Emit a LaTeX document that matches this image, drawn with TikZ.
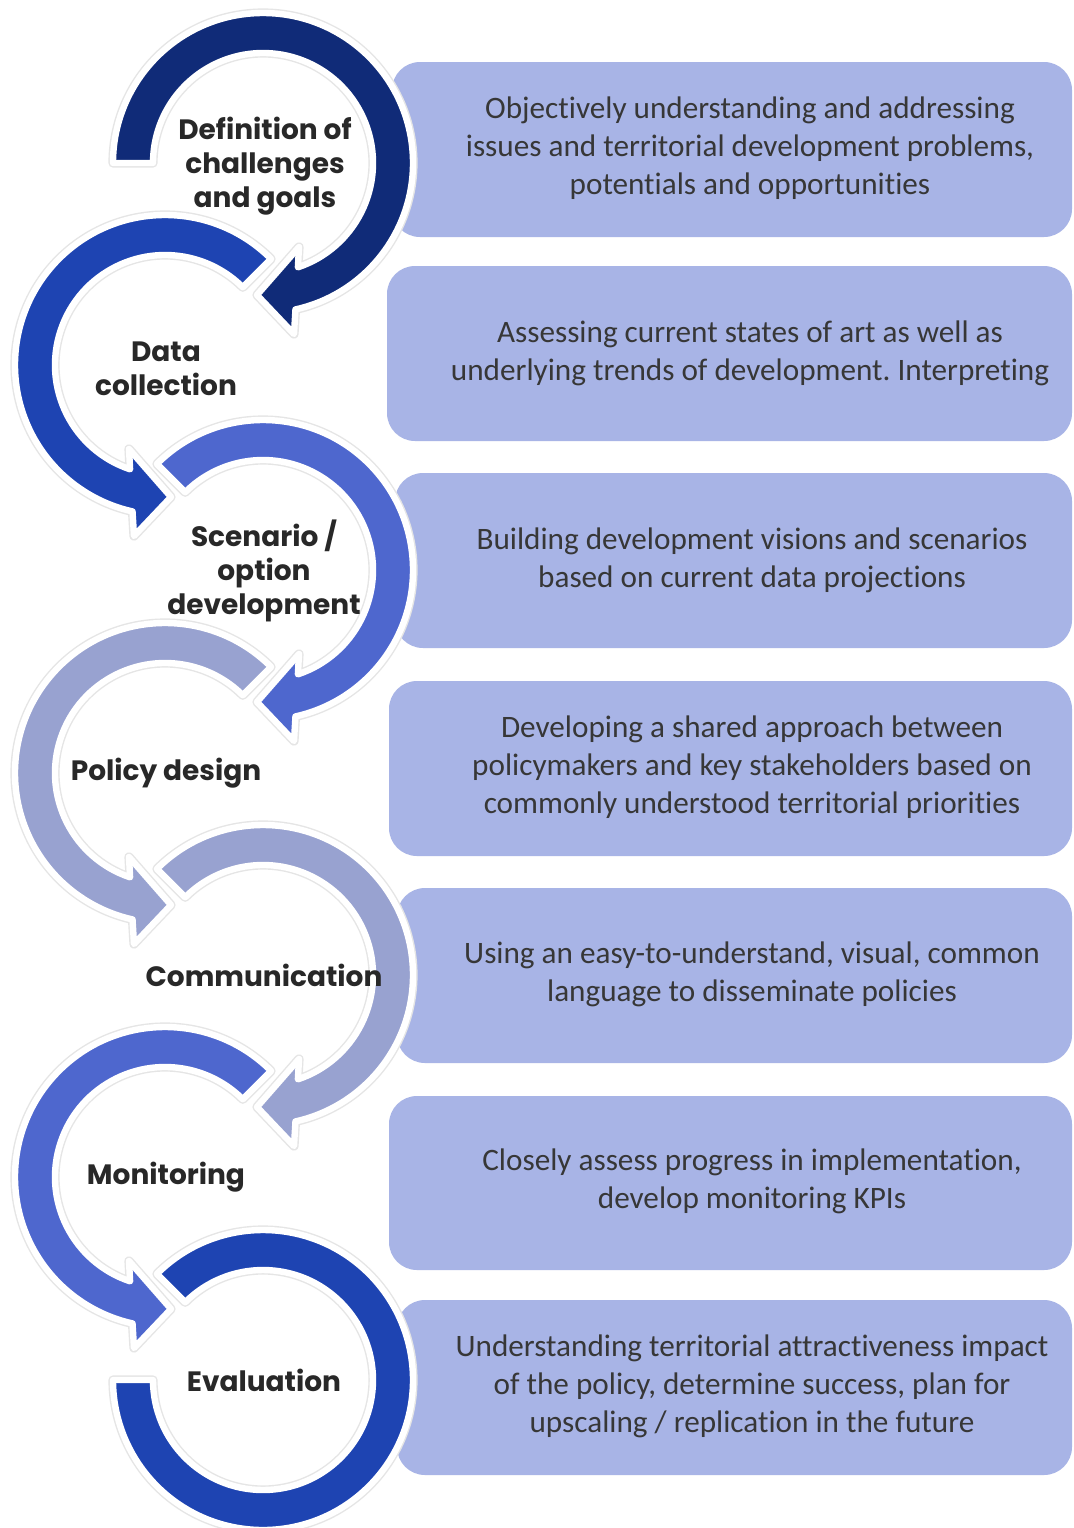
\documentclass[tikz,border=0pt]{standalone}
\usepackage{fontspec}
\setmainfont{Carlito}[RawFeature=-liga]
\newfontfamily\labfont{Poppins}
\frenchspacing
\definecolor{boxfill}{RGB}{168,180,230}
\definecolor{arcA}{RGB}{16,43,120}
\definecolor{arcB}{RGB}{30,68,178}
\definecolor{arcC}{RGB}{78,103,206}
\definecolor{arcD}{RGB}{152,162,208}
\definecolor{labtext}{RGB}{40,40,40}
\definecolor{boxtext}{RGB}{55,55,55}
\tikzset{
 shadowline/.style={draw=black!10, line width=4.6pt, line join=round},
 arcline/.style={draw=white, line width=3.2pt, line join=round},
 panel/.style={fill=boxfill, rounded corners=14pt},
 desc/.style={font=\fontsize{15.6}{19}\selectfont, text=boxtext, align=center, inner sep=0pt},
 steplabel/.style={font=\labfont\bfseries\fontsize{14}{17}\selectfont, text=labtext, align=center, inner sep=0pt},
}
% clockwise arc with arrowhead at the bottom (pointing left)
\newcommand\cwarc[4]{%
 \begin{scope}[shift={(#1,#2)},yscale=-1]
  \draw[shadowline] (#3:150) arc[start angle=#3,end angle=-77.5,radius=150] -- (31,-171) -- (-6,-132) -- (36,-84) -- (-71.5:110) arc[start angle=-71.5,end angle=#3,radius=110] -- cycle;
  \filldraw[fill=#4, arcline] (#3:150) arc[start angle=#3,end angle=-77.5,radius=150] -- (31,-171) -- (-6,-132) -- (36,-84) -- (-71.5:110) arc[start angle=-71.5,end angle=#3,radius=110] -- cycle;
 \end{scope}}
% counter-clockwise arc with arrowhead at the bottom (pointing right)
\newcommand\ccwarc[3]{%
 \begin{scope}[shift={(#1,#2)},yscale=-1]
  \draw[shadowline] (45:150) arc[start angle=45,end angle=257.5,radius=150] -- (-31,-171) -- (6,-132) -- (-36,-84) -- (251.5:110) arc[start angle=251.5,end angle=45,radius=110] -- cycle;
  \filldraw[fill=#3, arcline] (45:150) arc[start angle=45,end angle=257.5,radius=150] -- (-31,-171) -- (6,-132) -- (-36,-84) -- (251.5:110) arc[start angle=251.5,end angle=45,radius=110] -- cycle;
 \end{scope}}
\begin{document}
\begin{tikzpicture}[x=0.5pt,y=-0.5pt]
\useasboundingbox (0,0) rectangle (1073,1528);
\fill[white] (0,0) rectangle (1073,1528);
% panels
\fill[panel] (392,62) rectangle (1072,237);
\fill[panel] (387,266) rectangle (1072,441);
\fill[panel] (395,473) rectangle (1072,648);
\fill[panel] (389,681) rectangle (1072,856);
\fill[panel] (397,888) rectangle (1072,1063);
\fill[panel] (389,1096) rectangle (1072,1270);
\fill[panel] (397,1300) rectangle (1072,1475);
% descriptions
\node[desc] (t1) at (750,148) {Objectively understanding and addressing\\issues and territorial development problems,\\potentials and opportunities};
\node[desc] (t2) at (750,353) {Assessing current states of art as well as\\underlying trends of development. Interpreting};
\node[desc] (t3) at (752,560) {Building development visions and scenarios\\based on current data projections};
\node[desc] (t4) at (752,767) {Developing a shared approach between\\policymakers and key stakeholders based on\\commonly understood territorial priorities};
\node[desc] (t5) at (752,974) {Using an easy-to-understand, visual, common\\language to disseminate policies};
\node[desc] (t6) at (752,1181) {Closely assess progress in implementation,\\develop monitoring KPIs};
\node[desc] (t7) at (752,1386) {Understanding territorial attractiveness impact\\of the policy, determine success, plan for\\upscaling / replication in the future};
% arcs
\cwarc{263}{163}{180}{arcA}
\ccwarc{165}{365}{arcB}
\cwarc{263}{570}{135}{arcC}
\ccwarc{165}{773}{arcD}
\cwarc{263}{975}{135}{arcD}
\ccwarc{165}{1177}{arcC}
\begin{scope}[shift={(263,1380)},yscale=-1]
 \draw[shadowline] (135:150) arc[start angle=135,end angle=-180,radius=150] -- (180:110) arc[start angle=-180,end angle=135,radius=110] -- cycle;
 \filldraw[fill=arcB, arcline] (135:150) arc[start angle=135,end angle=-180,radius=150] -- (180:110) arc[start angle=-180,end angle=135,radius=110] -- cycle;
\end{scope}
% step labels
\node[steplabel] (s1) at (265,166) {Definition of\\challenges\\and goals};
\node[steplabel] (s2) at (166,369) {Data\\collection};
\node[steplabel] (s3) at (264,571) {Scenario /\\option\\development};
\node[steplabel] (s4) at (166,773) {Policy design};
\node[steplabel] (s5) at (264,975) {Communication};
\node[steplabel] (s6) at (166,1177) {Monitoring};
\node[steplabel] (s7) at (264,1380) {Evaluation};
\end{tikzpicture}
\end{document}
